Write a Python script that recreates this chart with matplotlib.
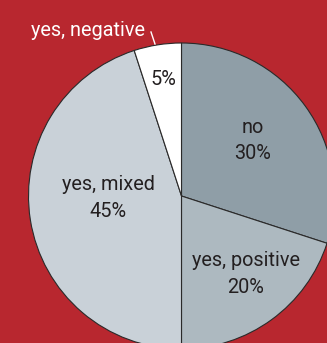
import numpy as np
import matplotlib
matplotlib.use("Agg")
import matplotlib.pyplot as plt

categories = ["no", "yes, positive", "yes, mixed", "yes, negative"]
values = [30, 20, 45, 5]
colors = ["#8f9ea7", "#adb9c0", "#c9d1d8", "#ffffff"]

BG = "#b8272f"
W, H = 327, 343
fig = plt.figure(figsize=(W / 100, H / 100), dpi=100, facecolor=BG)
ax = fig.add_axes([0, 0, 1, 1])
ax.set_facecolor(BG)

cx, cy, R = 181.5, H - 196, 153
wedges, _ = ax.pie(values, colors=colors, startangle=90, counterclock=False,
                   center=(cx, cy), radius=R,
                   wedgeprops=dict(edgecolor="#2a2a2a", linewidth=0.8),
                   frame=True)
ax.set_xlim(0, W)
ax.set_ylim(0, H)
ax.set_aspect("equal")
ax.axis("off")

plt.rcParams["font.family"] = ["Roboto", "DejaVu Sans"]
fs = 14.3
txtc = "#231f20"
rfrac = [0.59, 0.66, 0.48, 0.77]
ang_override = [37.8, -50.6, 181.6, None]
for i, w in enumerate(wedges):
    a = ang_override[i]
    if a is None:
        a = (w.theta1 + w.theta2) / 2
    x = cx + rfrac[i] * R * np.cos(np.radians(a))
    y = cy + rfrac[i] * R * np.sin(np.radians(a))
    if i == 3:
        ax.text(x, y, f"{values[i]}%", ha="center", va="center", fontsize=fs,
                color=txtc)
    else:
        ax.text(x, y, f"{categories[i]}\n{values[i]}%", ha="center", va="center",
                fontsize=fs, color=txtc, linespacing=1.5)

ax.text(88, H - 30, categories[3], ha="center", va="center", fontsize=fs, color="white")
ax.plot([151, 155], [H - 32, H - 44], color="white", lw=1)

fig.savefig("out.png", dpi=100, facecolor=BG)
